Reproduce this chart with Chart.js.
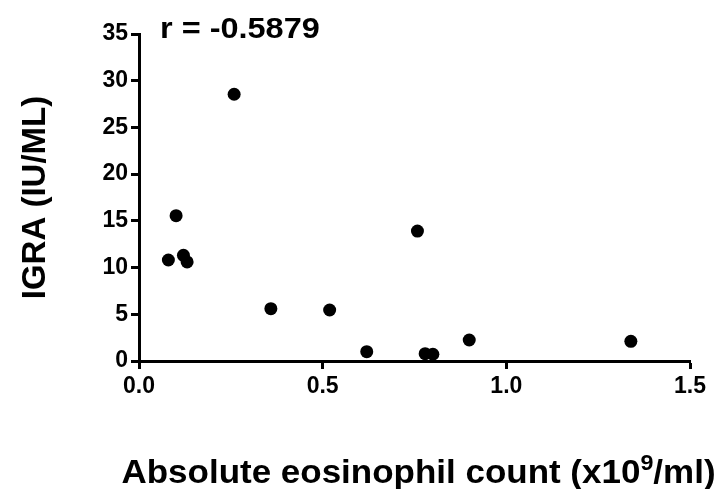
<!DOCTYPE html>
<html>
<head>
<meta charset="utf-8">
<script src="https://cdn.jsdelivr.net/npm/chart.js@4/dist/chart.umd.min.js"></script>
<style>
  html, body { margin: 0; padding: 0; background: #ffffff; }
  canvas { display: block; }
</style>
</head>
<body>
<canvas id="c" width="727" height="489"></canvas>
<script>
// Data
const eosinophilCount = [0.080, 0.101, 0.121, 0.131, 0.259, 0.359, 0.519, 0.620, 0.758, 0.779, 0.800, 0.899, 1.339];
const igraValues      = [10.81, 15.55, 11.31, 10.60, 28.55, 5.60, 5.46, 1.00, 13.91, 0.78, 0.72, 2.25, 2.11];
const xTicks = [0.0, 0.5, 1.0, 1.5];
const yTicks = [0, 5, 10, 15, 20, 25, 30, 35];
const xTitleMain = 'Absolute eosinophil count (x10';
const xTitleSup = '9';
const xTitleEnd = '/ml)';
const yTitle = 'IGRA (IU/ML)';
const annotationText = 'r = -0.5879';

const points = eosinophilCount.map((v, i) => ({ x: v, y: igraValues[i] }));
const FONT = "'Liberation Sans', Arial, Helvetica, sans-serif";

const textPlugin = {
  id: 'texts',
  afterDraw(chart) {
    const ctx = chart.ctx;
    const xs = chart.scales.x;
    const area = chart.chartArea;
    ctx.save();
    ctx.fillStyle = '#000';
    ctx.textBaseline = 'alphabetic';
    ctx.textAlign = 'left';

    // correlation label
    ctx.save();
    ctx.font = 'bold 29px ' + FONT;
    ctx.translate(xs.left + 21, 38);
    ctx.scale(1.12, 1);
    ctx.fillText(annotationText, 0, 0);
    ctx.restore();

    // x axis title with superscript
    const mainFont = 'bold 33px ' + FONT;
    const supFont = 'bold 22px ' + FONT;
    ctx.font = mainFont;
    const w1 = ctx.measureText(xTitleMain).width;
    const w3 = ctx.measureText(xTitleEnd).width;
    ctx.font = supFont;
    const w2 = ctx.measureText(xTitleSup).width;
    const sx = 1.06;
    const total = (w1 + w2 + w3) * sx;
    const cx = (area.left + area.right) / 2 + 4;
    const baseY = 483;
    ctx.save();
    ctx.translate(cx - total / 2, baseY);
    ctx.scale(sx, 1);
    ctx.font = mainFont;
    ctx.fillText(xTitleMain, 0, 0);
    ctx.font = supFont;
    ctx.fillText(xTitleSup, w1, -13);
    ctx.font = mainFont;
    ctx.fillText(xTitleEnd, w1 + w2, 0);
    ctx.restore();

    ctx.restore();
  }
};

new Chart(document.getElementById('c'), {
  type: 'scatter',
  data: {
    datasets: [{
      data: points,
      backgroundColor: '#000',
      borderColor: '#000',
      pointRadius: 6.5,
      pointHoverRadius: 6.5,
      borderWidth: 0
    }]
  },
  options: {
    responsive: false,
    animation: false,
    devicePixelRatio: 1,
    layout: { padding: { left: 0, right: 37, top: 34, bottom: 0 } },
    plugins: { legend: { display: false }, tooltip: { enabled: false } },
    scales: {
      x: {
        type: 'linear',
        min: 0, max: 1.5,
        afterBuildTicks(s) { s.ticks = xTicks.map(v => ({ value: v })); },
        afterFit(s) { s.height = 128; },
        border: { display: true, color: '#000', width: 3 },
        grid: { drawOnChartArea: false, drawTicks: true, tickLength: 8, tickWidth: 3, color: '#000' },
        ticks: {
          color: '#000', padding: 4,
          font: { family: FONT, size: 23, weight: 'bold' },
          callback: v => v.toFixed(1)
        },
        title: { display: false }
      },
      y: {
        type: 'linear',
        min: 0, max: 35,
        afterBuildTicks(s) { s.ticks = yTicks.map(v => ({ value: v })); },
        afterFit(s) { s.width = 139; },
        border: { display: true, color: '#000', width: 3 },
        grid: { drawOnChartArea: false, drawTicks: true, tickLength: 8, tickWidth: 3, color: '#000' },
        ticks: {
          color: '#000', padding: 3,
          font: { family: FONT, size: 23, weight: 'bold' },
          callback: v => String(v)
        },
        title: {
          display: true, text: yTitle, color: '#000',
          font: { family: FONT, size: 33, weight: 'bold' },
          padding: { top: 16, bottom: 0 }
        }
      }
    }
  },
  plugins: [textPlugin]
});
</script>
</body>
</html>
